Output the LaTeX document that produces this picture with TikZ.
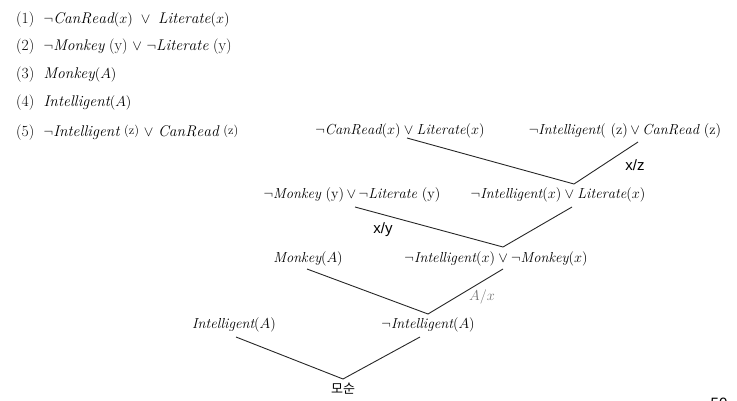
\documentclass[tikz,border=0pt]{standalone}
\usepackage{fontspec}
\newfontfamily\labelsans{Liberation Sans}
\newfontfamily\krfont{Noto Sans CJK KR}
\newcommand{\Vname}[1]{\mathit{#1}}
\newcommand{\uparg}[1]{\ \textrm{(#1)}\ }
\newcommand{\rarg}[1]{\ \raisebox{2pt}{\fontsize{12.5}{14}\selectfont(#1)}\ }
\begin{document}
\begin{tikzpicture}[x=1pt,y=-1pt,
  clause/.style={anchor=west, inner sep=0pt, font=\fontsize{15.5}{18}\selectfont},
  resnode/.style={inner sep=1pt, font=\fontsize{14.5}{17}\selectfont},
  subst/.style={inner sep=0pt, font=\labelsans\fontsize{15}{18}\selectfont},
  edge/.style={line width=0.9pt, draw=black!85}]
\useasboundingbox (0,0) rectangle (737,400);

% clause list
\node[clause] (c1) at (16,20)  {(1)\ \ $\neg\Vname{CanRead}(x)\ \vee\ \Vname{Literate}(x)$};
\node[clause] (c2) at (16,47)  {(2)\ \ $\neg\Vname{Monkey}$\uparg{y}$\vee\ \neg\Vname{Literate}$\uparg{y}};
\node[clause] (c3) at (16,75)  {(3)\ \ $\Vname{Monkey}(A)$};
\node[clause] (c4) at (16,103) {(4)\ \ $\Vname{Intelligent}(A)$};
\node[clause] (c5) at (16,133) {(5)\ \ $\neg\Vname{Intelligent}$\rarg{z}$\vee\ \Vname{CanRead}$\rarg{z}};

% resolution tree
\node[resnode] (n1) at (400,131) {$\neg\Vname{CanRead}(x)\vee\Vname{Literate}(x)$};
\node[resnode] (n2) at (625,131) {$\neg\Vname{Intelligent}($\ \textrm{(z)}\,$\vee\,\Vname{CanRead}$\ \textrm{(z)}};
\node[resnode] (n3) at (352,195) {$\neg\Vname{Monkey}$\ \textrm{(y)}\,$\vee\,\neg\Vname{Literate}$\ \textrm{(y)}};
\node[resnode] (n4) at (558,195) {$\neg\Vname{Intelligent}(x)\vee\Vname{Literate}(x)$};
\node[resnode] (n5) at (308,259) {$\Vname{Monkey}(A)$};
\node[resnode] (n6) at (496,259) {$\neg\Vname{Intelligent}(x)\vee\neg\Vname{Monkey}(x)$};
\node[resnode] (n7) at (234,325) {$\Vname{Intelligent}(A)$};
\node[resnode] (n8) at (428,325) {$\neg\Vname{Intelligent}(A)$};
\node[resnode, font=\krfont\fontsize{13}{15}\selectfont] (n9) at (343,389) {모순};

% resolution steps
\draw[edge] ([shift={(7,7)}]n1.center) -- ([shift={(16,-11)}]n4.center) -- ([shift={(13,11)}]n2.center);
\draw[edge] ([shift={(3,12)}]n3.center) -- ([shift={(7,-12)}]n6.center) -- ([shift={(14,12)}]n4.center);
\draw[edge] ([shift={(-1,10)}]n5.center) -- ([shift={(0,-11)}]n8.center) -- ([shift={(7,10)}]n6.center);
\draw[edge] ([shift={(2,12)}]n7.center) -- ([shift={(0,-10)}]n9.center) -- ([shift={(-8,12)}]n8.center);

% substitutions
\node[subst] (s1) at (635,165) {x/z};
\node[subst] (s2) at (383,230) {x/y};
\node[inner sep=0pt, text=black!55, font=\fontsize{14.5}{17}\selectfont] (s3) at (482,297) {$A/x$};

% page number, cut by the lower edge
\node[subst, anchor=north] (pg) at (719,398) {50};
\end{tikzpicture}
\end{document}
